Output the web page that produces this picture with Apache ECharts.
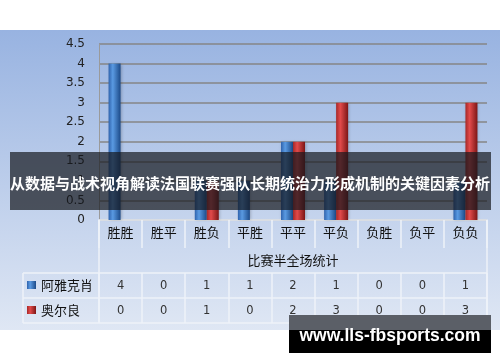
<!DOCTYPE html>
<html>
<head>
<meta charset="utf-8">
<script src="https://cdn.jsdelivr.net/npm/echarts@6/dist/echarts.min.js"></script>
<style>
html,body{margin:0;padding:0;background:#fff;}
#c{width:500px;height:362px;background:linear-gradient(to bottom,#fff 0px,#fff 30px,#98b3e1 30px,#dfe7f4 330px,#fff 330px,#fff 362px);}
</style>
</head>
<body>
<div id="c"></div>
<script>
const categories = ['胜胜','胜平','胜负','平胜','平平','平负','负胜','负平','负负'];
const seriesNames = ['阿雅克肖','奥尔良'];
const ajaccio = [4,0,1,1,2,1,0,0,1];
const orleans = [0,0,1,0,2,3,0,0,3];
const axisTitle = '比赛半全场统计';
const yMin = 0, yMax = 4.5, yStep = 0.5;
const bannerText = '从数据与战术视角解读法国联赛强队长期统治力形成机制的关键因素分析';
const watermark = 'www.lls-fbsports.com';

const G = {left: 99, right: 13, top: 44, bottom: 142};
const W = 500, H = 362;
const x0 = G.left, x1 = W - G.right, y0 = H - G.bottom;
const tableLeft = 23;
const lineCol = '#eef2f9';

function grad(c1, c2, c3) {
  return new echarts.graphic.LinearGradient(0, 0, 1, 0, [
    {offset: 0, color: c1}, {offset: 0.35, color: c2}, {offset: 1, color: c3}
  ]);
}
const blueG = grad('#2f63ad', '#5a9ae2', '#1c4a88');
const redG = grad('#a62828', '#e24a4a', '#7c1616');

const cjk = '"Noto Sans CJK SC", sans-serif';

const chart = echarts.init(document.getElementById('c'), null, {renderer: 'canvas'});
chart.setOption({
  animation: false,
  backgroundColor: 'transparent',
  grid: {left: G.left, right: G.right, top: G.top, bottom: G.bottom, containLabel: false},
  legend: {
    orient: 'vertical', left: 22, top: 272, itemWidth: 9, itemHeight: 8, itemGap: 9,
    selectedMode: false, icon: 'rect',
    textStyle: {fontFamily: cjk, fontSize: 13, color: '#111', lineHeight: 16},
    data: seriesNames
  },
  xAxis: [
    {
      type: 'category', data: categories, position: 'bottom',
      axisLine: {show: true, lineStyle: {color: lineCol, width: 1.5}},
      axisTick: {show: true, length: 28, lineStyle: {color: lineCol, width: 1.5}},
      axisLabel: {fontFamily: cjk, fontSize: 13, color: '#111', margin: 6},
      name: axisTitle, nameLocation: 'middle', nameGap: 34,
      nameTextStyle: {fontFamily: cjk, fontSize: 13, color: '#111'}
    },
    {
      type: 'category', data: ajaccio.map(String), position: 'bottom', offset: 53,
      axisLine: {show: false},
      axisTick: {show: true, length: 25, lineStyle: {color: lineCol, width: 1.5}},
      axisLabel: {fontFamily: 'DejaVu Sans', fontSize: 11.5, color: '#333', margin: 7}
    },
    {
      type: 'category', data: orleans.map(String), position: 'bottom', offset: 78,
      axisLine: {show: false},
      axisTick: {show: true, length: 25, lineStyle: {color: lineCol, width: 1.5}},
      axisLabel: {fontFamily: 'DejaVu Sans', fontSize: 11.5, color: '#333', margin: 7}
    }
  ],
  yAxis: {
    type: 'value', min: yMin, max: yMax, interval: yStep,
    axisLine: {show: true, lineStyle: {color: '#9a9a9a', width: 1}},
    axisTick: {show: false},
    axisLabel: {fontFamily: 'DejaVu Sans', fontSize: 12, color: '#222', margin: 14},
    splitLine: {lineStyle: {color: '#868686', width: 1.6}}
  },
  series: [
    {name: seriesNames[0], type: 'bar', data: ajaccio, barWidth: 12, barGap: '0%',
     itemStyle: {color: blueG, shadowColor: 'rgba(0,0,0,0.25)', shadowBlur: 3, shadowOffsetX: 1}},
    {name: seriesNames[1], type: 'bar', data: orleans, barWidth: 12, barGap: '0%',
     itemStyle: {color: redG, shadowColor: 'rgba(0,0,0,0.25)', shadowBlur: 3, shadowOffsetX: 1}}
  ],
  graphic: [
    {type: 'line', z: 5, shape: {x1: tableLeft, y1: y0 + 53, x2: x1, y2: y0 + 53}, style: {stroke: lineCol, lineWidth: 1.5}},
    {type: 'line', z: 5, shape: {x1: tableLeft, y1: y0 + 78, x2: x1, y2: y0 + 78}, style: {stroke: lineCol, lineWidth: 1.5}},
    {type: 'line', z: 5, shape: {x1: tableLeft, y1: y0 + 103, x2: x1, y2: y0 + 103}, style: {stroke: lineCol, lineWidth: 1.5}},
    {type: 'line', z: 5, shape: {x1: tableLeft, y1: y0 + 53, x2: tableLeft, y2: y0 + 103}, style: {stroke: lineCol, lineWidth: 1.5}},
    {type: 'line', z: 5, shape: {x1: x0, y1: y0, x2: x0, y2: y0 + 103}, style: {stroke: lineCol, lineWidth: 1.5}},
    {type: 'line', z: 5, shape: {x1: x1, y1: y0, x2: x1, y2: y0 + 103}, style: {stroke: lineCol, lineWidth: 1.5}},
    {type: 'rect', z: 100, shape: {x: 10, y: 152, width: 481, height: 58}, style: {fill: 'rgba(22,24,30,0.7)'}},
    {type: 'text', z: 101, x: 250, y: 183, style: {text: bannerText, fill: '#fff', font: 'bold 15px "Noto Sans CJK SC", sans-serif', align: 'center', verticalAlign: 'middle'}},
    {type: 'rect', z: 100, shape: {x: 289, y: 315, width: 202, height: 15}, style: {fill: '#5b5f67'}},
    {type: 'rect', z: 100, shape: {x: 289, y: 330, width: 202, height: 23}, style: {fill: '#000'}},
    {type: 'text', z: 101, x: 390, y: 336, style: {text: watermark, fill: '#fff', font: 'bold 17.5px "Liberation Sans", sans-serif', align: 'center', verticalAlign: 'middle'}}
  ]
});
</script>
</body>
</html>
